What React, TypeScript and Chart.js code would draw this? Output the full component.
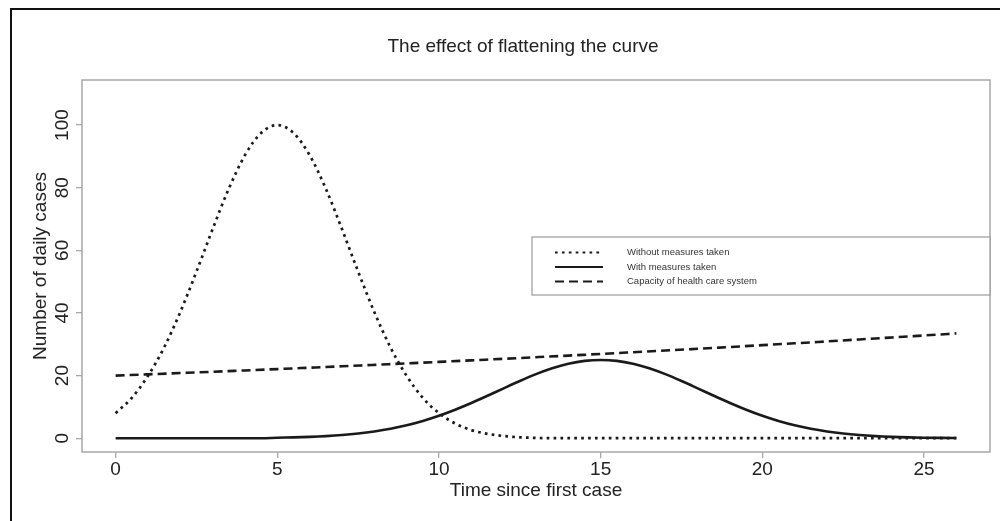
import { useEffect, useRef } from 'react';
import { Chart, registerables } from 'chart.js';

Chart.register(...registerables);

const FONT = '"Liberation Sans", Arial, Helvetica, sans-serif';

const chartTitle = 'The effect of flattening the curve';
const xAxisTitle = 'Time since first case';
const yAxisTitle = 'Number of daily cases';
const seriesLabels = ['Without measures taken', 'With measures taken', 'Capacity of health care system'];

const xTickValues = [0, 5, 10, 15, 20, 25];
const yTickValues = [0, 20, 40, 60, 80, 100];

const timeSteps = [
  0, 0.5, 1, 1.5, 2, 2.5, 3, 3.5, 4, 4.5, 5, 5.5, 6, 6.5, 7, 7.5, 8, 8.5, 9, 9.5,
  10, 10.5, 11, 11.5, 12, 12.5, 13, 13.5, 14, 14.5, 15, 15.5, 16, 16.5, 17, 17.5,
  18, 18.5, 19, 19.5, 20, 20.5, 21, 21.5, 22, 22.5, 23, 23.5, 24, 24.5, 25, 25.5, 26,
];

const withoutMeasures = [
  8.0, 12.9, 19.9, 29.0, 40.3, 53.2, 66.8, 79.7, 90.4, 97.5, 100, 97.5, 90.4, 79.7,
  66.8, 53.2, 40.3, 29.0, 19.9, 12.9, 8.0, 4.7, 2.6, 1.4, 0.7, 0.3, 0.1, 0,
  0, 0, 0, 0, 0, 0, 0, 0, 0, 0, 0, 0, 0, 0, 0, 0, 0, 0, 0, 0, 0, 0, 0, 0, 0,
];

const withMeasures = [
  0, 0, 0, 0, 0, 0, 0, 0, 0, 0,
  0.17, 0.27, 0.44, 0.68, 1.02, 1.5, 2.16, 3.02, 4.13, 5.51, 7.16, 9.08, 11.23,
  13.55, 15.94, 18.29, 20.47, 22.34, 23.78, 24.69, 25, 24.69, 23.78, 22.34, 20.47,
  18.29, 15.94, 13.55, 11.23, 9.08, 7.16, 5.51, 4.13, 3.02, 2.16, 1.5, 1.02, 0.68,
  0.44, 0.27, 0.17, 0.1, 0.06,
];

const capacityDays = [
  0, 1, 2, 3, 4, 5, 6, 7, 8, 9, 10, 11, 12, 13, 14, 15, 16, 17, 18, 19, 20, 21, 22, 23, 24, 25, 26,
];
const capacity = [
  20.0, 20.4, 20.81, 21.22, 21.65, 22.08, 22.52, 22.97, 23.43, 23.9, 24.38, 24.87, 25.36,
  25.87, 26.39, 26.92, 27.46, 28.0, 28.56, 29.14, 29.72, 30.31, 30.92, 31.54, 32.17, 32.81, 33.47,
];

const LINE = '#1a1a1a';
const TEXT = '#222222';
const GRAY = '#a8a8a8';

const decorPlugin = {
  id: 'decor',
  afterDraw(chart: any) {
    const ctx = chart.ctx as CanvasRenderingContext2D;
    const a = chart.chartArea;
    ctx.save();
    // outer black frame
    ctx.strokeStyle = '#111';
    ctx.lineWidth = 2;
    ctx.strokeRect(11, 9, 1200, 700);
    // plot box
    ctx.strokeStyle = GRAY;
    ctx.lineWidth = 1.5;
    ctx.strokeRect(a.left, a.top, a.right - a.left, a.bottom - a.top);
    // title
    ctx.fillStyle = TEXT;
    ctx.font = `19px ${FONT}`;
    ctx.textAlign = 'center';
    ctx.textBaseline = 'alphabetic';
    ctx.fillText(chartTitle, 523, 52);
    // rotated y tick labels
    const ys = chart.scales.y;
    ys.ticks.forEach((t: any) => {
      const py = ys.getPixelForValue(t.value);
      ctx.save();
      ctx.translate(63, py);
      ctx.rotate(-Math.PI / 2);
      ctx.textAlign = 'center';
      ctx.textBaseline = 'middle';
      ctx.fillText(String(t.value), 0, 0);
      ctx.restore();
    });
    // legend
    const lx = 532, ly = 237, lw = a.right - 532, lh = 58;
    ctx.fillStyle = '#fff';
    ctx.fillRect(lx, ly, lw, lh);
    ctx.strokeStyle = '#9a9a9a';
    ctx.lineWidth = 1.2;
    ctx.strokeRect(lx, ly, lw, lh);
    const rows = [252.5, 267, 281.5];
    chart.data.datasets.forEach((ds: any, i: number) => {
      const y = rows[i];
      ctx.beginPath();
      ctx.setLineDash(ds.borderDash || []);
      ctx.strokeStyle = ds.borderColor;
      ctx.lineWidth = 2.2;
      ctx.moveTo(555, y);
      ctx.lineTo(603, y);
      ctx.stroke();
      ctx.setLineDash([]);
      ctx.fillStyle = '#333';
      ctx.font = `9.5px ${FONT}`;
      ctx.textAlign = 'left';
      ctx.textBaseline = 'middle';
      ctx.fillText(ds.label, 627, y);
    });
    ctx.restore();
  },
};

export default function App() {
  const ref = useRef<HTMLCanvasElement>(null);
  useEffect(() => {
    if (!ref.current) return;
    const chart = new Chart(ref.current, {
      type: 'line',
      data: {
        datasets: [
          {
            label: seriesLabels[0],
            data: timeSteps.map((t, i) => ({ x: t, y: withoutMeasures[i] })),
            borderColor: LINE,
            borderWidth: 2.7,
            borderDash: [2.7, 4.2],
            pointRadius: 0,
            cubicInterpolationMode: 'monotone',
            fill: false,
          },
          {
            label: seriesLabels[1],
            data: timeSteps.map((t, i) => ({ x: t, y: withMeasures[i] })),
            borderColor: LINE,
            borderWidth: 2.6,
            pointRadius: 0,
            cubicInterpolationMode: 'monotone',
            fill: false,
          },
          {
            label: seriesLabels[2],
            data: capacityDays.map((t, i) => ({ x: t, y: capacity[i] })),
            borderColor: LINE,
            borderWidth: 2.6,
            borderDash: [9, 5],
            pointRadius: 0,
            cubicInterpolationMode: 'monotone',
            fill: false,
          },
        ],
      },
      options: {
        responsive: false,
        animation: false,
        devicePixelRatio: 1,
        layout: { padding: { top: 80, right: 10, left: 0, bottom: 0 } },
        plugins: {
          legend: { display: false },
          tooltip: { enabled: false },
          title: { display: false },
        },
        scales: {
          x: {
            type: 'linear',
            min: -1.04,
            max: 27.04,
            afterBuildTicks: (s: any) => {
              s.ticks = xTickValues.map((v) => ({ value: v }));
            },
            afterFit: (s: any) => {
              s.height = 69;
            },
            ticks: {
              font: { family: FONT, size: 19 },
              color: TEXT,
              padding: 0,
              autoSkip: false,
              maxRotation: 0,
              minRotation: 0,
              callback: (v: any) => String(v),
            },
            grid: { drawOnChartArea: false, drawTicks: true, tickLength: 6, color: GRAY, lineWidth: 1.3 },
            border: { display: false },
            title: {
              display: true,
              text: xAxisTitle,
              font: { family: FONT, size: 19 },
              color: TEXT,
              padding: { top: 0, bottom: 18.6 },
            },
          },
          y: {
            type: 'linear',
            min: -4.4,
            max: 114.4,
            afterBuildTicks: (s: any) => {
              s.ticks = yTickValues.map((v) => ({ value: v }));
            },
            afterFit: (s: any) => {
              s.width = 82;
            },
            ticks: { display: false },
            grid: { drawOnChartArea: false, drawTicks: true, tickLength: 6, color: GRAY, lineWidth: 1.3 },
            border: { display: false },
            title: {
              display: true,
              text: yAxisTitle,
              font: { family: FONT, size: 19 },
              color: TEXT,
              padding: { top: 29.6, bottom: 0 },
            },
          },
        },
      },
      plugins: [decorPlugin],
    } as any);
    return () => chart.destroy();
  }, []);
  return (
    <div style={{ position: 'absolute', left: 0, top: 0, width: 1000, height: 521, background: '#fff' }}>
      <canvas ref={ref} width={1000} height={521} style={{ display: 'block' }} />
    </div>
  );
}
